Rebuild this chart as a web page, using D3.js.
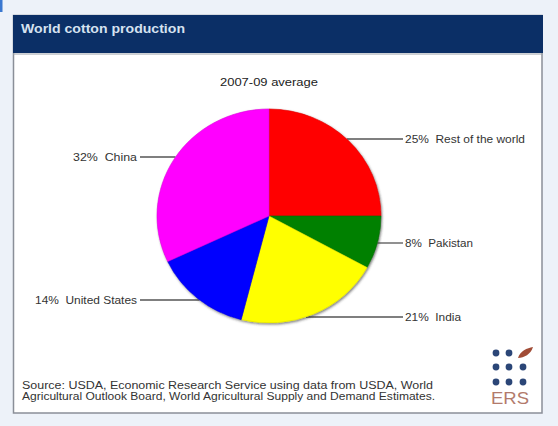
<!DOCTYPE html>
<html>
<head>
<meta charset="utf-8">
<script src="https://cdn.jsdelivr.net/npm/d3@7"></script>
<style>
  html, body { margin: 0; padding: 0; background: #edf2f9; }
  svg { display: block; font-family: "Liberation Sans", Arial, sans-serif; }
</style>
</head>
<body>
<div id="chart"></div>
<script>
const categories = ['Rest of the world', 'Pakistan', 'India', 'United States', 'China'];
const shares = [25, 8, 21, 14, 32];
const sliceColors = ['#ff0000', '#008000', '#ffff00', '#0000ff', '#ff00ff'];
const title = 'World cotton production';
const subtitle = '2007-09 average';
const sourceLines = [
  'Source: USDA, Economic Research Service using data from USDA, World',
  'Agricultural Outlook Board, World Agricultural Supply and Demand Estimates.'
];

const width = 558, height = 426;
const cx = 269, cy = 216, rx = 112, ry = 107;

const svg = d3.select('#chart').append('svg')
  .attr('width', width).attr('height', height);

// page edge strip
svg.append('rect').attr('x', 0).attr('y', 0).attr('width', 2.5).attr('height', 12).attr('fill', '#3a78d0');

// panel
svg.append('rect').attr('x', 13.5).attr('y', 15.5).attr('width', 528.5).attr('height', 397.5)
  .attr('fill', '#fff').attr('stroke', '#8a8f98').attr('stroke-width', 1.5);
svg.append('rect').attr('x', 13).attr('y', 15).attr('width', 530).attr('height', 38).attr('fill', '#0b2f66');
svg.append('line').attr('x1', 13).attr('x2', 543).attr('y1', 54).attr('y2', 54).attr('stroke', '#9aa0a8');
svg.append('text').attr('x', 21).attr('y', 33).attr('fill', '#d6e2f0')
  .attr('font-size', 13.5).attr('font-weight', 'bold')
  .attr('textLength', 164).attr('lengthAdjust', 'spacingAndGlyphs').text(title);

svg.append('text').attr('x', 220).attr('y', 86)
  .attr('font-size', 10).attr('fill', '#222')
  .attr('textLength', 98).attr('lengthAdjust', 'spacingAndGlyphs').text(subtitle);

const pie = d3.pie().sort(null).value((d) => d);
const arcs = pie(shares);
const arc = d3.arc().innerRadius(0).outerRadius(rx);

// leader lines + labels
const labels = [
  { i: 0, y: 139, side: 'r', w: 120 },
  { i: 1, y: 243, side: 'r', w: 68 },
  { i: 2, y: 317, side: 'r', w: 56 },
  { i: 3, y: 300, side: 'l', w: 102 },
  { i: 4, y: 157, side: 'l', w: 64 }
];
const lg = svg.append('g');
for (const l of labels) {
  const dy = l.y - cy;
  const hw = rx * Math.sqrt(Math.max(0, 1 - (dy / ry) ** 2));
  const x0 = l.side === 'r' ? cx + hw : cx - hw;
  const x1 = l.side === 'r' ? 403 : 140;
  lg.append('line').attr('x1', x0).attr('x2', x1).attr('y1', l.y).attr('y2', l.y)
    .attr('stroke', '#555').attr('stroke-width', 1.3);
  lg.append('text')
    .attr('x', l.side === 'r' ? 405 : 137 - l.w)
    .attr('y', l.y + 3.8)
    .attr('font-size', 10.5).attr('fill', '#333')
    .attr('xml:space', 'preserve')
    .attr('textLength', l.w).attr('lengthAdjust', 'spacingAndGlyphs')
    .text(`${shares[l.i]}%  ${categories[l.i]}`);
}

const defs = svg.append('defs');
const f = defs.append('filter').attr('id', 'sh').attr('x', '-10%').attr('y', '-10%').attr('width', '120%').attr('height', '120%');
f.append('feDropShadow').attr('dx', 1).attr('dy', 1.5).attr('stdDeviation', 1.2).attr('flood-color', '#333').attr('flood-opacity', 0.6);

const pg = svg.append('g')
  .attr('transform', `translate(${cx},${cy}) scale(1,${ry / rx})`)
  .attr('filter', 'url(#sh)');
pg.selectAll('path').data(arcs).join('path')
  .attr('d', arc)
  .attr('fill', (d, i) => sliceColors[i])
  .attr('stroke', (d, i) => d3.color(sliceColors[i]).darker(0.4))
  .attr('stroke-width', 0.6);

// source
const srcW = [411, 413];
svg.selectAll('text.src').data(sourceLines).join('text')
  .attr('class', 'src')
  .attr('x', 22).attr('y', (d, i) => 388.5 + i * 11.5)
  .attr('font-size', 10).attr('fill', '#333')
  .attr('textLength', (d, i) => srcW[i]).attr('lengthAdjust', 'spacingAndGlyphs')
  .text((d) => d);

// ERS logo
const dotX = [496, 509, 523];
const dotY = [353, 367, 382];
const logo = svg.append('g');
dotY.forEach((y, r) => dotX.forEach((x, c) => {
  if (r === 0 && c === 2) return;
  logo.append('circle').attr('cx', x).attr('cy', y).attr('r', 3.4).attr('fill', '#2b4677');
}));
logo.append('path')
  .attr('d', 'M518,358 C520,351 527,348 533,347 C531,354 524,358 518,358 Z')
  .attr('fill', '#a14c36');
logo.append('text').attr('x', 510).attr('y', 404).attr('text-anchor', 'middle')
  .attr('font-size', 16.5).attr('fill', '#b27a6c')
  .attr('textLength', 38).attr('lengthAdjust', 'spacingAndGlyphs').text('ERS');
</script>
</body>
</html>
